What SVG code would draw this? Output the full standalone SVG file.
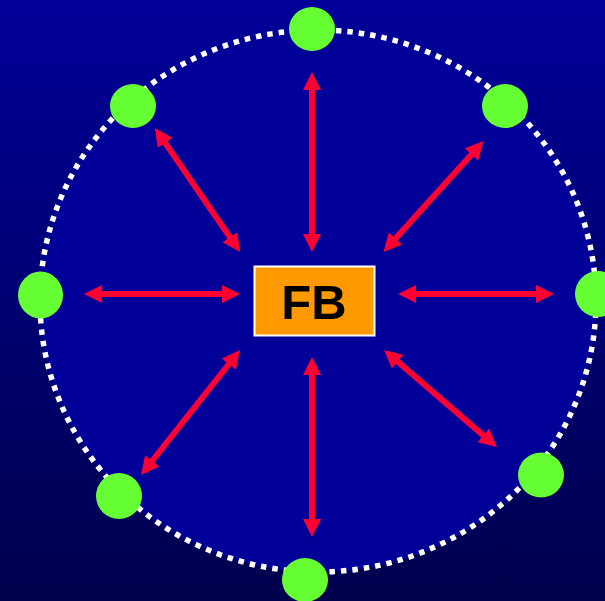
<svg xmlns="http://www.w3.org/2000/svg" width="605" height="601" viewBox="0 0 605 601">
<defs>
<linearGradient id="bg" x1="0" y1="0" x2="0" y2="1">
<stop offset="0" stop-color="#000099"/>
<stop offset="1" stop-color="#00004d"/>
</linearGradient>
<marker id="ah" viewBox="0 0 18 18" markerWidth="18" markerHeight="18" markerUnits="userSpaceOnUse" refX="4" refY="9" orient="auto-start-reverse">
<path d="M0,0 L18,9 L0,18 z" fill="#ff0033"/>
</marker>
<style>
.node{fill:#66ff33}
.arr{stroke:#ff0033;stroke-width:6;fill:none;marker-start:url(#ah);marker-end:url(#ah)}
</style>
</defs>
<rect width="605" height="601" fill="url(#bg)"/>
<ellipse id="ring" cx="318" cy="301" rx="278" ry="271" fill="#000099" stroke="#ffffff" stroke-width="5.5" stroke-dasharray="5.5 6"/>
<g id="connectors">
<line class="arr" x1="312" y1="86" x2="312" y2="238"/>
<line class="arr" x1="312" y1="371" x2="312" y2="523"/>
<line class="arr" x1="98" y1="294" x2="226" y2="294"/>
<line class="arr" x1="412" y1="294" x2="540" y2="294"/>
<line class="arr" x1="162.9" y1="139.6" x2="232.1" y2="240.4"/>
<line class="arr" x1="474.2" y1="151.5" x2="392.8" y2="241.5"/>
<line class="arr" x1="231.3" y1="361" x2="149.7" y2="464"/>
<line class="arr" x1="394.7" y1="359.1" x2="486.3" y2="437.9"/>
</g>
<g id="n-top"><ellipse class="node" cx="312" cy="29" rx="23" ry="22"/></g>
<g id="n-topright"><ellipse class="node" cx="505" cy="106" rx="23" ry="22"/></g>
<g id="n-right"><ellipse class="node" cx="598" cy="294" rx="23" ry="23"/></g>
<g id="n-bottomright"><ellipse class="node" cx="541" cy="475" rx="23" ry="22.5"/></g>
<g id="n-bottom"><ellipse class="node" cx="305" cy="580" rx="23" ry="22"/></g>
<g id="n-bottomleft"><ellipse class="node" cx="119" cy="496" rx="23" ry="23"/></g>
<g id="n-left"><ellipse class="node" cx="40.5" cy="295" rx="22.5" ry="23.5"/></g>
<g id="n-topleft"><ellipse class="node" cx="133" cy="106" rx="23" ry="22"/></g>
<g id="fb">
<rect x="254.5" y="266.5" width="120" height="69" fill="#ff9900" stroke="#ffffff" stroke-width="2"/>
<text x="314" y="319" text-anchor="middle" font-family="Liberation Sans, Arial, sans-serif" font-weight="bold" font-size="49" fill="#000000">FB</text>
</g>
</svg>
